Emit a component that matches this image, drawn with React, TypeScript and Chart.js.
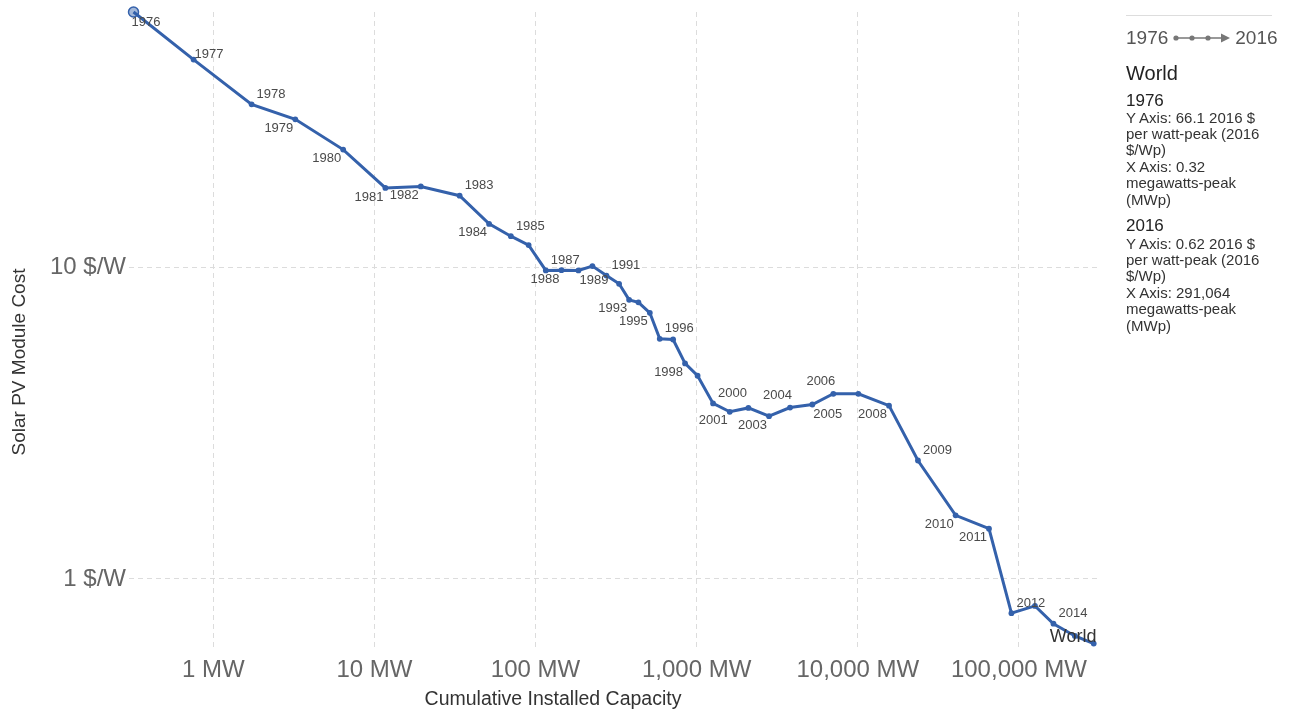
import React, { useEffect, useRef } from 'react';
import { Chart, registerables } from 'chart.js';

Chart.register(...registerables);

// ---------- data ----------
const years = [
  1976, 1977, 1978, 1979, 1980, 1981, 1982, 1983, 1984, 1985,
  1986, 1987, 1988, 1989, 1990, 1991, 1992, 1993, 1994, 1995,
  1996, 1997, 1998, 1999, 2000, 2001, 2002, 2003, 2004, 2005,
  2006, 2007, 2008, 2009, 2010, 2011, 2012, 2013, 2014, 2015, 2016,
];

// cumulative installed capacity, MWp
const capacityMW = [
  0.32, 0.755, 1.73, 3.23, 6.4, 11.7, 19.4, 33.8, 51.5, 70.3,
  90.6, 115.8, 144.8, 184.6, 225.4, 275.4, 330, 381, 435, 512,
  590, 714, 847, 1013, 1264, 1604, 2094, 2812, 3796, 5223,
  7047, 10075, 15620, 23615, 40460, 65160, 89800, 125700, 163700, 222400, 291064,
];

// module cost, 2016 $ per watt-peak
const costUSD = [
  66.1, 46.5, 33.4, 29.9, 23.9, 18.0, 18.2, 17.0, 13.8, 12.6,
  11.8, 9.78, 9.8, 9.78, 10.1, 9.42, 8.86, 7.87, 7.73, 7.15,
  5.9, 5.87, 4.92, 4.49, 3.66, 3.44, 3.54, 3.33, 3.55, 3.63,
  3.93, 3.93, 3.6, 2.4, 1.6, 1.45, 0.776, 0.819, 0.718, 0.656, 0.62,
];

const xTickValues = [1, 10, 100, 1000, 10000, 100000];
const xTickLabels = ['1 MW', '10 MW', '100 MW', '1,000 MW', '10,000 MW', '100,000 MW'];
const yTickValues = [1, 10];
const yTickLabels = ['1 $/W', '10 $/W'];

const labeledYears = [
  1976, 1977, 1978, 1979, 1980, 1981, 1982, 1983, 1984, 1985,
  1987, 1988, 1989, 1991, 1993, 1995, 1996, 1998, 2000, 2001,
  2003, 2004, 2005, 2006, 2008, 2009, 2010, 2011, 2012, 2014,
];
const labelSides = [
  'b', 'r', 'ur', 'bl', 'bl', 'bl', 'bl', 'ur', 'bl', 'ur',
  'ur', 'bl', 'br', 'ur', 'bl', 'bl', 'ur', 'bl', 'ur', 'bl',
  'bl', 'ul', 'br', 'ul', 'bl', 'ur', 'bl', 'bl', 'ur', 'ur',
];

const seriesName = 'World';
const xAxisTitle = 'Cumulative Installed Capacity';
const yAxisTitle = 'Solar PV Module Cost';

const legendRange = ['1976', '2016'];
const legendStart = ['1976', 'Y Axis: 66.1 2016 $', 'per watt-peak (2016', '$/Wp)', 'X Axis: 0.32', 'megawatts-peak', '(MWp)'];
const legendEnd = ['2016', 'Y Axis: 0.62 2016 $', 'per watt-peak (2016', '$/Wp)', 'X Axis: 291,064', 'megawatts-peak', '(MWp)'];

// ---------- styles ----------
const FONT = '"Liberation Sans", Arial, Helvetica, sans-serif';
const LINE = '#3461ab';
const SIDE: Record<string, { dx: number; dy: number; align: CanvasTextAlign }> = {
  ur: { dx: 5, dy: -10, align: 'left' },
  bl: { dx: -2, dy: 9, align: 'right' },
  br: { dx: 1, dy: 10, align: 'left' },
  ul: { dx: 2, dy: -12, align: 'right' },
  b: { dx: -2, dy: 10, align: 'left' },
  r: { dx: 1, dy: -5, align: 'left' },
};

const yearLabelPlugin = {
  id: 'yearLabels',
  afterDatasetsDraw(chart: any) {
    const { ctx, chartArea } = chart;
    const meta = chart.getDatasetMeta(0);
    ctx.save();
    ctx.beginPath();
    ctx.rect(0, 0, chartArea.right + 3, chart.height);
    ctx.clip();
    ctx.font = `13px ${FONT}`;
    ctx.fillStyle = '#4a4a4a';
    ctx.textBaseline = 'middle';
    labeledYears.forEach((yr, i) => {
      const idx = years.indexOf(yr);
      const el = meta.data[idx];
      if (!el) return;
      const s = SIDE[labelSides[i]];
      ctx.textAlign = s.align;
      ctx.fillText(String(yr), el.x + s.dx, el.y + s.dy);
    });
    const last = meta.data[years.length - 1];
    if (last) {
      ctx.font = `18px ${FONT}`;
      ctx.fillStyle = '#333';
      ctx.textAlign = 'left';
      ctx.fillText(seriesName, last.x - 44, last.y - 7);
    }
    ctx.restore();
  },
};

const axisTitlePlugin = {
  id: 'axisTitles',
  afterDraw(chart: any) {
    const { ctx } = chart;
    ctx.save();
    ctx.fillStyle = '#333';
    ctx.textAlign = 'center';
    ctx.textBaseline = 'middle';
    ctx.font = `19.5px ${FONT}`;
    ctx.fillText(xAxisTitle, 553, 700);
    ctx.font = `19px ${FONT}`;
    ctx.translate(20, 362);
    ctx.rotate(-Math.PI / 2);
    ctx.fillText(yAxisTitle, 0, 0);
    ctx.restore();
  },
};

function zeroPad(scale: any) {
  scale.paddingTop = 0;
  scale.paddingBottom = 0;
  scale.paddingLeft = 0;
  scale.paddingRight = 0;
}

export default function App() {
  const ref = useRef<HTMLCanvasElement>(null);

  useEffect(() => {
    const canvas = ref.current;
    if (!canvas) return;
    const points = capacityMW.map((x, i) => ({ x, y: costUSD[i] }));
    const chart = new Chart(canvas, {
      type: 'line',
      data: {
        datasets: [
          {
            label: seriesName,
            data: points,
            borderColor: LINE,
            borderWidth: 3,
            tension: 0,
            clip: false as any,
            pointRadius: (c: any) => (c.dataIndex === 0 ? 5 : 2.9),
            pointBackgroundColor: (c: any) => (c.dataIndex === 0 ? 'rgba(52,97,171,0.45)' : LINE),
            pointBorderColor: LINE,
            pointBorderWidth: (c: any) => (c.dataIndex === 0 ? 1.5 : 0),
            pointHoverRadius: 3,
          },
        ],
      },
      options: {
        responsive: false,
        devicePixelRatio: 1,
        animation: false,
        events: [],
        layout: { padding: { top: 12, right: 198, left: 0, bottom: 0 } },
        plugins: {
          legend: { display: false },
          tooltip: { enabled: false },
        },
        scales: {
          x: {
            type: 'logarithmic',
            min: 0.32,
            max: 305000,
            afterBuildTicks: (scale: any) => {
              scale.ticks = xTickValues.map((v) => ({ value: v }));
            },
            afterFit: (scale: any) => {
              scale.height = 63;
              zeroPad(scale);
            },
            ticks: {
              autoSkip: false,
              maxRotation: 0,
              padding: 8,
              color: '#666',
              font: { family: FONT, size: 24 },
              callback: (v: any) => {
                const i = xTickValues.indexOf(Number(v));
                return i >= 0 ? xTickLabels[i] : '';
              },
            },
            grid: { color: '#dcdcdc', lineWidth: 1, drawTicks: false },
            border: { display: false, dash: [5, 4] },
          },
          y: {
            type: 'logarithmic',
            min: 0.61,
            max: 66.1,
            afterBuildTicks: (scale: any) => {
              scale.ticks = yTickValues.map((v) => ({ value: v }));
            },
            afterFit: (scale: any) => {
              scale.width = 129;
              zeroPad(scale);
            },
            ticks: {
              autoSkip: false,
              padding: 3,
              color: '#666',
              font: { family: FONT, size: 24 },
              callback: (v: any) => {
                const i = yTickValues.indexOf(Number(v));
                return i >= 0 ? yTickLabels[i] : '';
              },
            },
            grid: { color: '#dcdcdc', lineWidth: 1, drawTicks: false },
            border: { display: false, dash: [5, 4] },
          },
        },
      } as any,
      plugins: [yearLabelPlugin, axisTitlePlugin],
    });
    return () => chart.destroy();
  }, []);

  const line = (txt: string, i: number) => <div key={i}>{txt}</div>;

  return (
    <div
      style={{
        position: 'fixed',
        left: 0,
        top: 0,
        width: 1295,
        height: 711,
        background: '#fff',
        fontFamily: FONT,
        color: '#333',
      }}
    >
      <canvas
        ref={ref}
        width={1295}
        height={711}
        style={{ position: 'absolute', left: 0, top: 0, width: 1295, height: 711 }}
      />
      <div style={{ position: 'absolute', left: 1126, top: 15, width: 146, borderTop: '1px solid #ddd' }} />
      <div
        style={{
          position: 'absolute',
          left: 1126,
          top: 27,
          fontSize: 19,
          lineHeight: '22px',
          color: '#555',
          whiteSpace: 'nowrap',
          display: 'flex',
          alignItems: 'center',
        }}
      >
        <span>{legendRange[0]}</span>
        <svg width="62" height="12" style={{ margin: '0 2px 0 3px' }}>
          <line x1="4" y1="6" x2="52" y2="6" stroke="#777" strokeWidth="1.5" />
          <circle cx="5" cy="6" r="2.6" fill="#777" />
          <circle cx="21" cy="6" r="2.6" fill="#777" />
          <circle cx="37" cy="6" r="2.6" fill="#777" />
          <polygon points="50,1.5 59,6 50,10.5" fill="#777" />
        </svg>
        <span>{legendRange[1]}</span>
      </div>
      <div style={{ position: 'absolute', left: 1126, top: 61, fontSize: 20, lineHeight: '24px', color: '#222' }}>
        {seriesName}
      </div>
      <div style={{ position: 'absolute', left: 1126, top: 91, fontSize: 17, lineHeight: '20px', color: '#222' }}>
        {legendStart[0]}
      </div>
      <div style={{ position: 'absolute', left: 1126, top: 109.5, fontSize: 15, lineHeight: '16.4px', color: '#333', whiteSpace: 'nowrap' }}>
        {legendStart.slice(1).map(line)}
      </div>
      <div style={{ position: 'absolute', left: 1126, top: 216, fontSize: 17, lineHeight: '20px', color: '#222' }}>
        {legendEnd[0]}
      </div>
      <div style={{ position: 'absolute', left: 1126, top: 235.5, fontSize: 15, lineHeight: '16.4px', color: '#333', whiteSpace: 'nowrap' }}>
        {legendEnd.slice(1).map(line)}
      </div>
    </div>
  );
}
